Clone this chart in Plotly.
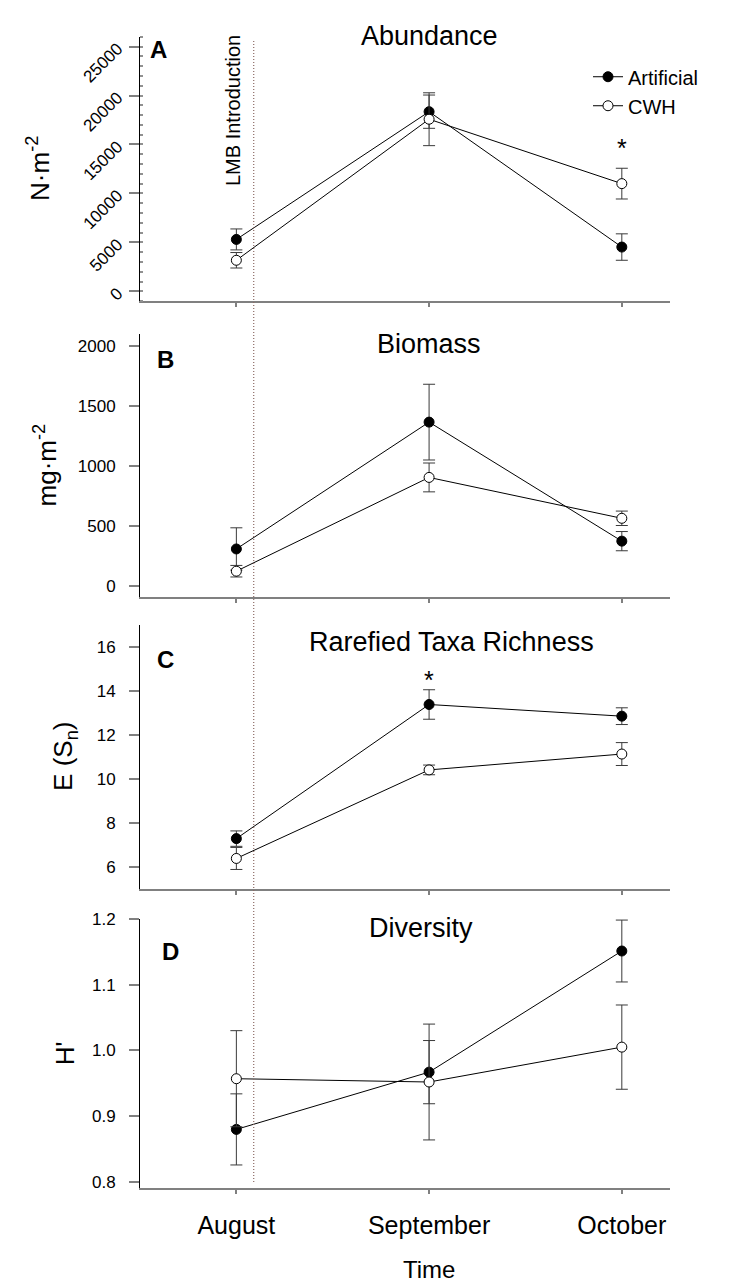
import plotly.graph_objects as go

W, H = 729, 1281

months = ["August", "September", "October"]

abund_art = [5300, 18350, 4520]
abund_art_err = [1070, 1700, 1350]
abund_cwh = [3170, 17580, 11000]
abund_cwh_err = [790, 2700, 1570]

bio_art = [310, 1365, 375]
bio_art_err = [176, 315, 80]
bio_cwh = [125, 905, 565]
bio_cwh_err = [48, 120, 60]

rich_art = [7.29, 13.38, 12.85]
rich_art_err = [0.35, 0.67, 0.38]
rich_cwh = [6.39, 10.41, 11.13]
rich_cwh_err = [0.50, 0.22, 0.52]

div_art = [0.880, 0.967, 1.151]
div_art_err = [0.054, 0.048, 0.047]
div_cwh = [0.957, 0.952, 1.005]
div_cwh_err = [0.073, 0.088, 0.064]

FONT = "Liberation Sans, Arial, sans-serif"

def py(px):
    return 1 - px / H

def pxx(px):
    return px / W

panels = [
    dict(art=abund_art, ae=abund_art_err, cwh=abund_cwh, ce=abund_cwh_err,
         top=20, bot=287, rng=[-1000, 26000], tv=[0, 5000, 10000, 15000, 20000, 25000],
         title="Abundance", ylab="N·m<sup>-2</sup>", ylx=31, letter="A", lx=140, ly=33, tsh=0),
    dict(art=bio_art, ae=bio_art_err, cwh=bio_cwh, ce=bio_cwh_err,
         top=320, bot=586, rng=[-90, 2100], tv=[0, 500, 1000, 1500, 2000],
         title="Biomass", ylab="mg·m<sup>-2</sup>", ylx=37, letter="B", lx=147, ly=346, tsh=0),
    dict(art=rich_art, ae=rich_art_err, cwh=rich_cwh, ce=rich_cwh_err,
         top=614, bot=881, rng=[5, 17], tv=[6, 8, 10, 12, 14, 16],
         title="Rarefied Taxa Richness", ylab="E (S<sub>n</sub>)", ylx=57, letter="C", lx=147, ly=649, tsh=22),
    dict(art=div_art, ae=div_art_err, cwh=div_cwh, ce=div_cwh_err,
         top=911, bot=1183, rng=[0.791, 1.2], tv=[0.8, 0.9, 1.0, 1.1, 1.2],
         title="Diversity", ylab="H'", ylx=57, letter="D", lx=152, ly=944, tsh=-8),
]

title_y = [19.5, 330, 631, 920]

fig = go.Figure()
layout = dict(
    width=W, height=H,
    margin=dict(l=0, r=0, t=0, b=0),
    paper_bgcolor="white", plot_bgcolor="white",
    font=dict(family=FONT, color="black", size=17),
    showlegend=True,
    legend=dict(x=pxx(580), y=py(75), xanchor="left", yanchor="middle",
                font=dict(size=20, family=FONT), bgcolor="rgba(0,0,0,0)",
                tracegroupgap=0, itemwidth=30),
)
annotations = []
shapes = []

xdom = [pxx(132), pxx(662)]

for i, p in enumerate(panels):
    n = "" if i == 0 else str(i + 1)
    xa, ya = "x" + n, "y" + n
    for name, vals, errs, fill in [("Artificial", p["art"], p["ae"], "black"),
                                    ("CWH", p["cwh"], p["ce"], "white")]:
        fig.add_trace(go.Scatter(
            x=months, y=vals, name=name, mode="lines+markers",
            xaxis=xa, yaxis=ya,
            line=dict(color="black", width=1),
            marker=dict(symbol="circle", size=10, color=fill, line=dict(color="black", width=1)),
            error_y=dict(type="data", array=errs, visible=True, color="#3a3a3a", thickness=1, width=6),
            showlegend=(i == 0),
        ))
    last = (i == 3)
    layout["xaxis" + n] = dict(
        domain=xdom, anchor=ya, type="category", range=[-0.5, 2.25],
        showline=True, linecolor="#808080", linewidth=1.5, mirror=False,
        ticks="outside", ticklen=4, tickcolor="#808080", tickwidth=1.5,
        showticklabels=last, tickfont=dict(size=25, family=FONT),
        ticklabelstandoff=10,
        showgrid=False, zeroline=False, fixedrange=True,
    )
    ydict = dict(
        domain=[py(p["bot"]), py(p["top"])], anchor=xa, range=p["rng"],
        tickvals=p["tv"], showline=True, linecolor="black", linewidth=1,
        ticks="outside", ticklen=10, tickcolor="#808080", tickwidth=1.5,
        tickfont=dict(size=17, family=FONT), ticklabelstandoff=10,
        showgrid=False, zeroline=False,
    )
    if i == 0:
        ydict.update(tickangle=-45, tickformat="d", ticklabelstandoff=8,
                     minor=dict(dtick=1000, tick0=0, ticks="inside", ticklen=3,
                                tickcolor="#909090", showgrid=False))
    if i == 3:
        ydict.update(tickformat=".1f")
    layout["yaxis" + n] = ydict

    annotations.append(dict(text=p["title"], x=1, xref=xa, y=py(title_y[i]), yref="paper",
                            xanchor="center", yanchor="middle", showarrow=False, xshift=p["tsh"],
                            font=dict(size=27, family=FONT)))
    annotations.append(dict(text="<b>" + p["letter"] + "</b>", x=pxx(p["lx"]), xref="paper",
                            y=py(p["ly"]), yref="paper", xanchor="left", yanchor="middle",
                            showarrow=False, font=dict(size=24, family=FONT)))
    annotations.append(dict(text=p["ylab"], x=pxx(p["ylx"]), xref="paper",
                            y=(py(p["bot"]) + py(p["top"])) / 2, yref="paper",
                            xanchor="center", yanchor="middle", textangle=-90, showarrow=False,
                            font=dict(size=26, family=FONT)))

annotations.append(dict(text="*", x="October", xref="x", y=15300, yref="y", showarrow=False,
                        yshift=-6, font=dict(size=25, family=FONT)))
annotations.append(dict(text="*", x="September", xref="x3", y=14.77, yref="y3", showarrow=False,
                        yshift=-6, font=dict(size=25, family=FONT)))

shapes.append(dict(type="line", xref="x", yref="paper", x0=0.09, x1=0.09,
                   y0=py(1177), y1=py(23), line=dict(color="#8c6a64", width=1.2, dash="1px,2px")))
annotations.append(dict(text="LMB Introduction", x=pxx(225), xref="paper", y=py(95), yref="paper",
                        xanchor="center", yanchor="middle", textangle=-90, showarrow=False,
                        font=dict(size=20, family=FONT)))

annotations.append(dict(text="Time", x=1, xref="x4", y=py(1265), yref="paper",
                        xanchor="center", yanchor="middle", showarrow=False,
                        font=dict(size=24, family=FONT)))

layout["annotations"] = annotations
layout["shapes"] = shapes
fig.update_layout(**layout)
fig.write_html("out.html")
